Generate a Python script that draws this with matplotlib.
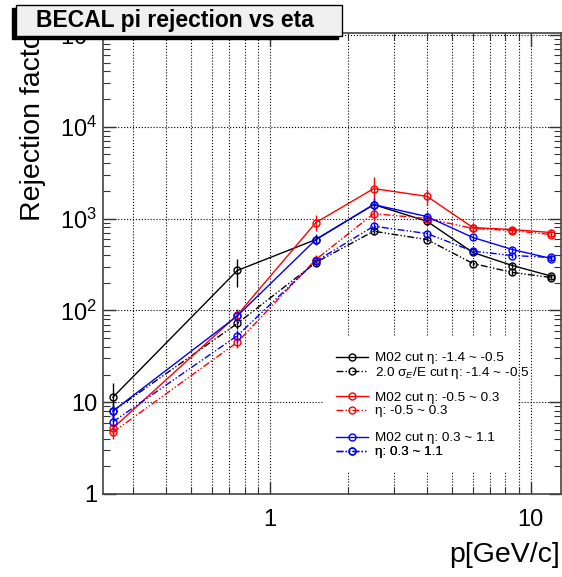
"""BECAL pi rejection vs eta, log-log comparison of M02 and sigma_E/E cuts."""

import matplotlib
matplotlib.use("Agg")
import matplotlib.pyplot as plt
from matplotlib.patches import Rectangle
from matplotlib.ticker import FixedLocator, FuncFormatter, NullFormatter
import numpy as np

plt.rcParams["font.family"] = ["Liberation Sans", "DejaVu Sans"]
plt.rcParams["mathtext.fontset"] = "custom"
plt.rcParams["mathtext.rm"] = "Liberation Sans"
plt.rcParams["mathtext.it"] = "Liberation Sans:italic"

# momentum bin centres [GeV/c]
p = [0.25, 0.75, 1.5, 2.5, 4.0, 6.0, 8.5, 12.0]

# eta -1.4 ~ -0.5
m02_bwd = [11.3, 272, 591, 1420, 935, 427, 308, 236]
m02_bwd_err = [5.0, 90, 60, 150, 80, 25, 20, 12]
sig_bwd = [8.0, 72, 332, 728, 591, 324, 259, 228]
sig_bwd_err = [1.5, 10, 30, 60, 40, 20, 15, 10]

# eta -0.5 ~ 0.3
m02_mid = [5.2, 89, 905, 2120, 1747, 798, 759, 704]
m02_mid_err = [0.8, 15, 180, 750, 330, 60, 60, 50]
sig_mid = [4.7, 45, 358, 1133, 1000, 780, 741, 670]
sig_mid_err = [0.7, 6, 40, 200, 100, 50, 50, 40]

# eta 0.3 ~ 1.1
m02_fwd = [8.0, 87, 591, 1420, 1052, 622, 460, 367]
m02_fwd_err = [1.5, 15, 80, 250, 120, 40, 30, 20]
sig_fwd = [6.1, 53, 343, 825, 687, 441, 396, 377]
sig_fwd_err = [1.0, 8, 40, 100, 60, 30, 25, 20]

labels = [
    "M02 cut η: -1.4 ~ -0.5",
    "2.0 σ$_{E}$/E cut η: -1.4 ~ -0.5",
    "M02 cut η: -0.5 ~ 0.3",
    "η: -0.5 ~ 0.3",
    "M02 cut η: 0.3 ~ 1.1",
    "η: 0.3 ~ 1.1",
]

DASH = (0, (5, 1.5, 1, 1.5, 1, 1.5))

W, H = 562, 577
fig = plt.figure(figsize=(W / 100, H / 100), dpi=100)
ax = fig.add_axes([102.7 / W, 1 - 494 / H, (560.5 - 102.7) / W, (494 - 33) / H])

series = [
    (m02_bwd, m02_bwd_err, "black", "-"),
    (sig_bwd, sig_bwd_err, "black", DASH),
    (m02_mid, m02_mid_err, "red", "-"),
    (sig_mid, sig_mid_err, "red", DASH),
    (m02_fwd, m02_fwd_err, "blue", "-"),
    (sig_fwd, sig_fwd_err, "blue", DASH),
]

handles = []
for vals, errs, color, ls in series:
    eb = ax.errorbar(p, vals, yerr=errs, color=color, ls=ls, lw=1.0,
                     marker="o", ms=5, mfc="none", mec=color, mew=1.0,
                     elinewidth=1.0, capsize=0, zorder=3)
    handles.append(eb[0])

ax.set_xscale("log")
ax.set_yscale("log")
ax.set_xlim(0.2286, 13.0)
ax.set_ylim(1, 1.05e5)

ax.xaxis.set_major_locator(FixedLocator([1, 10]))
ax.xaxis.set_minor_locator(FixedLocator(
    [0.3, 0.4, 0.5, 0.6, 0.7, 0.8, 0.9, 2, 3, 4, 5, 6, 7, 8, 9]))
ax.xaxis.set_minor_formatter(NullFormatter())


def log_label(v, pos):
    if v <= 1.5:
        return "1"
    if v <= 15:
        return "10"
    return r"$10^{%d}$" % int(round(np.log10(v)))


ax.xaxis.set_major_formatter(FuncFormatter(log_label))
ax.yaxis.set_major_formatter(FuncFormatter(log_label))
ax.yaxis.set_minor_formatter(NullFormatter())

ax.tick_params(which="both", direction="in", top=True, right=True,
               labelsize=17, color="#333333")
ax.tick_params(which="major", length=9, width=1)
ax.tick_params(which="minor", length=5, width=0.8)
ax.tick_params(axis="x", which="major", pad=11)
ax.tick_params(axis="y", which="major", pad=4)

ax.grid(True, which="major", axis="y", ls=":", color="black", lw=0.8)
ax.grid(True, which="both", axis="x", ls=":", color="black", lw=0.8)
ax.set_axisbelow(True)
for sp in ax.spines.values():
    sp.set_color("#444444")
    sp.set_linewidth(1.2)

# white legend pad hides the grid behind the entries
ax.add_patch(Rectangle((0.481, 0.048), 0.424, 0.293, transform=ax.transAxes,
                       fc="white", ec="none", zorder=2.5))

# legend: one entry per row, grouped in pairs
rows = [358, 373, 398, 411, 438, 452]
for h, lab, yc in zip(handles, labels, rows):
    leg = ax.legend([h], [lab], loc="center left",
                    bbox_to_anchor=(336 / W, 1 - yc / H),
                    bbox_transform=fig.transFigure, frameon=False,
                    fontsize=9.7, handlelength=2.4, handletextpad=0.5,
                    borderpad=0, borderaxespad=0)
    ax.add_artist(leg)

fig.text(560 / W, 1 - 562 / H, "p[GeV/c]", ha="right", va="baseline",
         fontsize=20.5)
fig.text(33 / W, 1 - 221 / H, "Rejection factor", rotation=90,
         ha="center", va="bottom", fontsize=20.5, zorder=0.5)

# title box with shadow
fig.patches.append(Rectangle((12 / W, 1 - 39 / H), 326 / W, 31 / H,
                             transform=fig.transFigure, fc="black",
                             ec="black", zorder=1))
fig.patches.append(Rectangle((16 / W, 1 - 36 / H), 326 / W, 31 / H,
                             transform=fig.transFigure, fc="#f0f0f0",
                             ec="black", lw=1, zorder=1.1))
fig.text(175 / W, 1 - 21 / H, "BECAL pi rejection vs eta", ha="center",
         va="center", fontsize=16.5, fontweight="bold", zorder=3)

fig.savefig("out.png", dpi=100)
